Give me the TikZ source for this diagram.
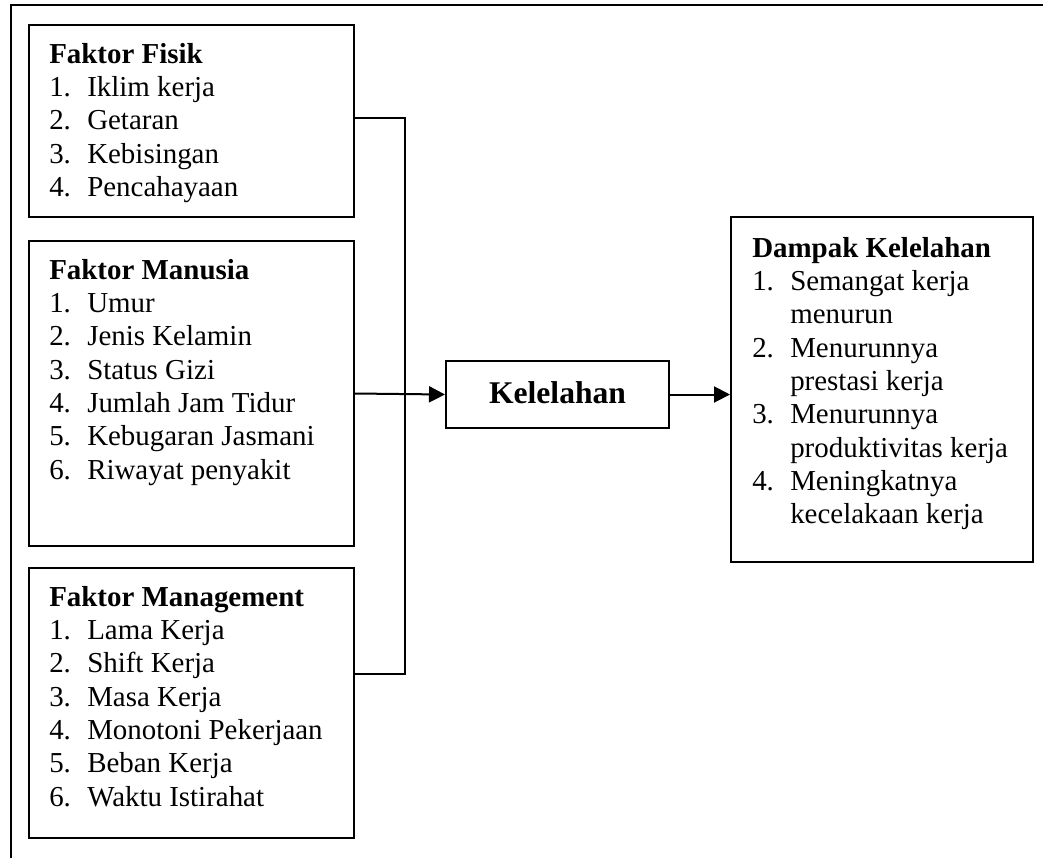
\documentclass[tikz,border=0pt]{standalone}
\usepackage{fontspec}
\setmainfont{Liberation Serif}
\usetikzlibrary{fit,arrows.meta}
\newcommand{\li}[2]{\makebox[28.5pt][l]{#1}#2}
\begin{document}
\begin{tikzpicture}[x=0.75pt,y=-0.75pt,
  box/.style={draw, line width=1.5pt, inner sep=0pt},
  txt/.style={anchor=base west, inner sep=0pt, font=\fontsize{21.7pt}{25pt}\selectfont},
  conn/.style={line width=1.5pt},
  arr/.style={conn, -{Triangle[length=12pt,width=12pt]}}]
\useasboundingbox (0,0) rectangle (1043,858);
% outer frame (cropped)
\draw[conn] (11,858) -- (11,5) -- (1043,5);
% boxes
\node[box, fit={(29,25) (354,217)}] (fisik) {};
\node[box, fit={(29,241) (354,546)}] (manusia) {};
\node[box, fit={(29,568) (354,838)}] (mgmt) {};
\node[box, fit={(446,361) (669,428)}] (kel) {};
\node[box, fit={(731,217) (1033,562)}] (dampak) {};
% texts
\node[anchor=base, inner sep=0pt, font=\fontsize{23.7pt}{28pt}\selectfont\bfseries] (kelt) at (557.5,403) {Kelelahan};
\node[txt] (fisikt) at (49,63) {\begin{tabular}[t]{@{}l@{}}
\textbf{Faktor Fisik}\\
\li{1.}{Iklim kerja}\\
\li{2.}{Getaran}\\
\li{3.}{Kebisingan}\\
\li{4.}{Pencahayaan}
\end{tabular}};
\node[txt] (manusiat) at (49,279) {\begin{tabular}[t]{@{}l@{}}
\textbf{Faktor Manusia}\\
\li{1.}{Umur}\\
\li{2.}{Jenis Kelamin}\\
\li{3.}{Status Gizi}\\
\li{4.}{Jumlah Jam Tidur}\\
\li{5.}{Kebugaran Jasmani}\\
\li{6.}{Riwayat penyakit}
\end{tabular}};
\node[txt] (mgmtt) at (49,606) {\begin{tabular}[t]{@{}l@{}}
\textbf{Faktor Management}\\
\li{1.}{Lama Kerja}\\
\li{2.}{Shift Kerja}\\
\li{3.}{Masa Kerja}\\
\li{4.}{Monotoni Pekerjaan}\\
\li{5.}{Beban Kerja}\\
\li{6.}{Waktu Istirahat}
\end{tabular}};
\node[txt] (dampakt) at (752,257) {\begin{tabular}[t]{@{}l@{}}
\textbf{Dampak Kelelahan}\\
\li{1.}{Semangat kerja}\\
\li{}{menurun}\\
\li{2.}{Menurunnya}\\
\li{}{prestasi kerja}\\
\li{3.}{Menurunnya}\\
\li{}{produktivitas kerja}\\
\li{4.}{Meningkatnya}\\
\li{}{kecelakaan kerja}
\end{tabular}};
% connectors
\coordinate (jt) at (405,118);
\coordinate (jb) at (405,674);
\draw[conn] (fisik.east |- jt) -- (jt) -- (jb) -- (mgmt.east |- jb);
\draw[arr] (manusia.east) -- (kel.west);
\draw[arr] (kel.east) -- (kel.east -| dampak.west);
\end{tikzpicture}
\end{document}
